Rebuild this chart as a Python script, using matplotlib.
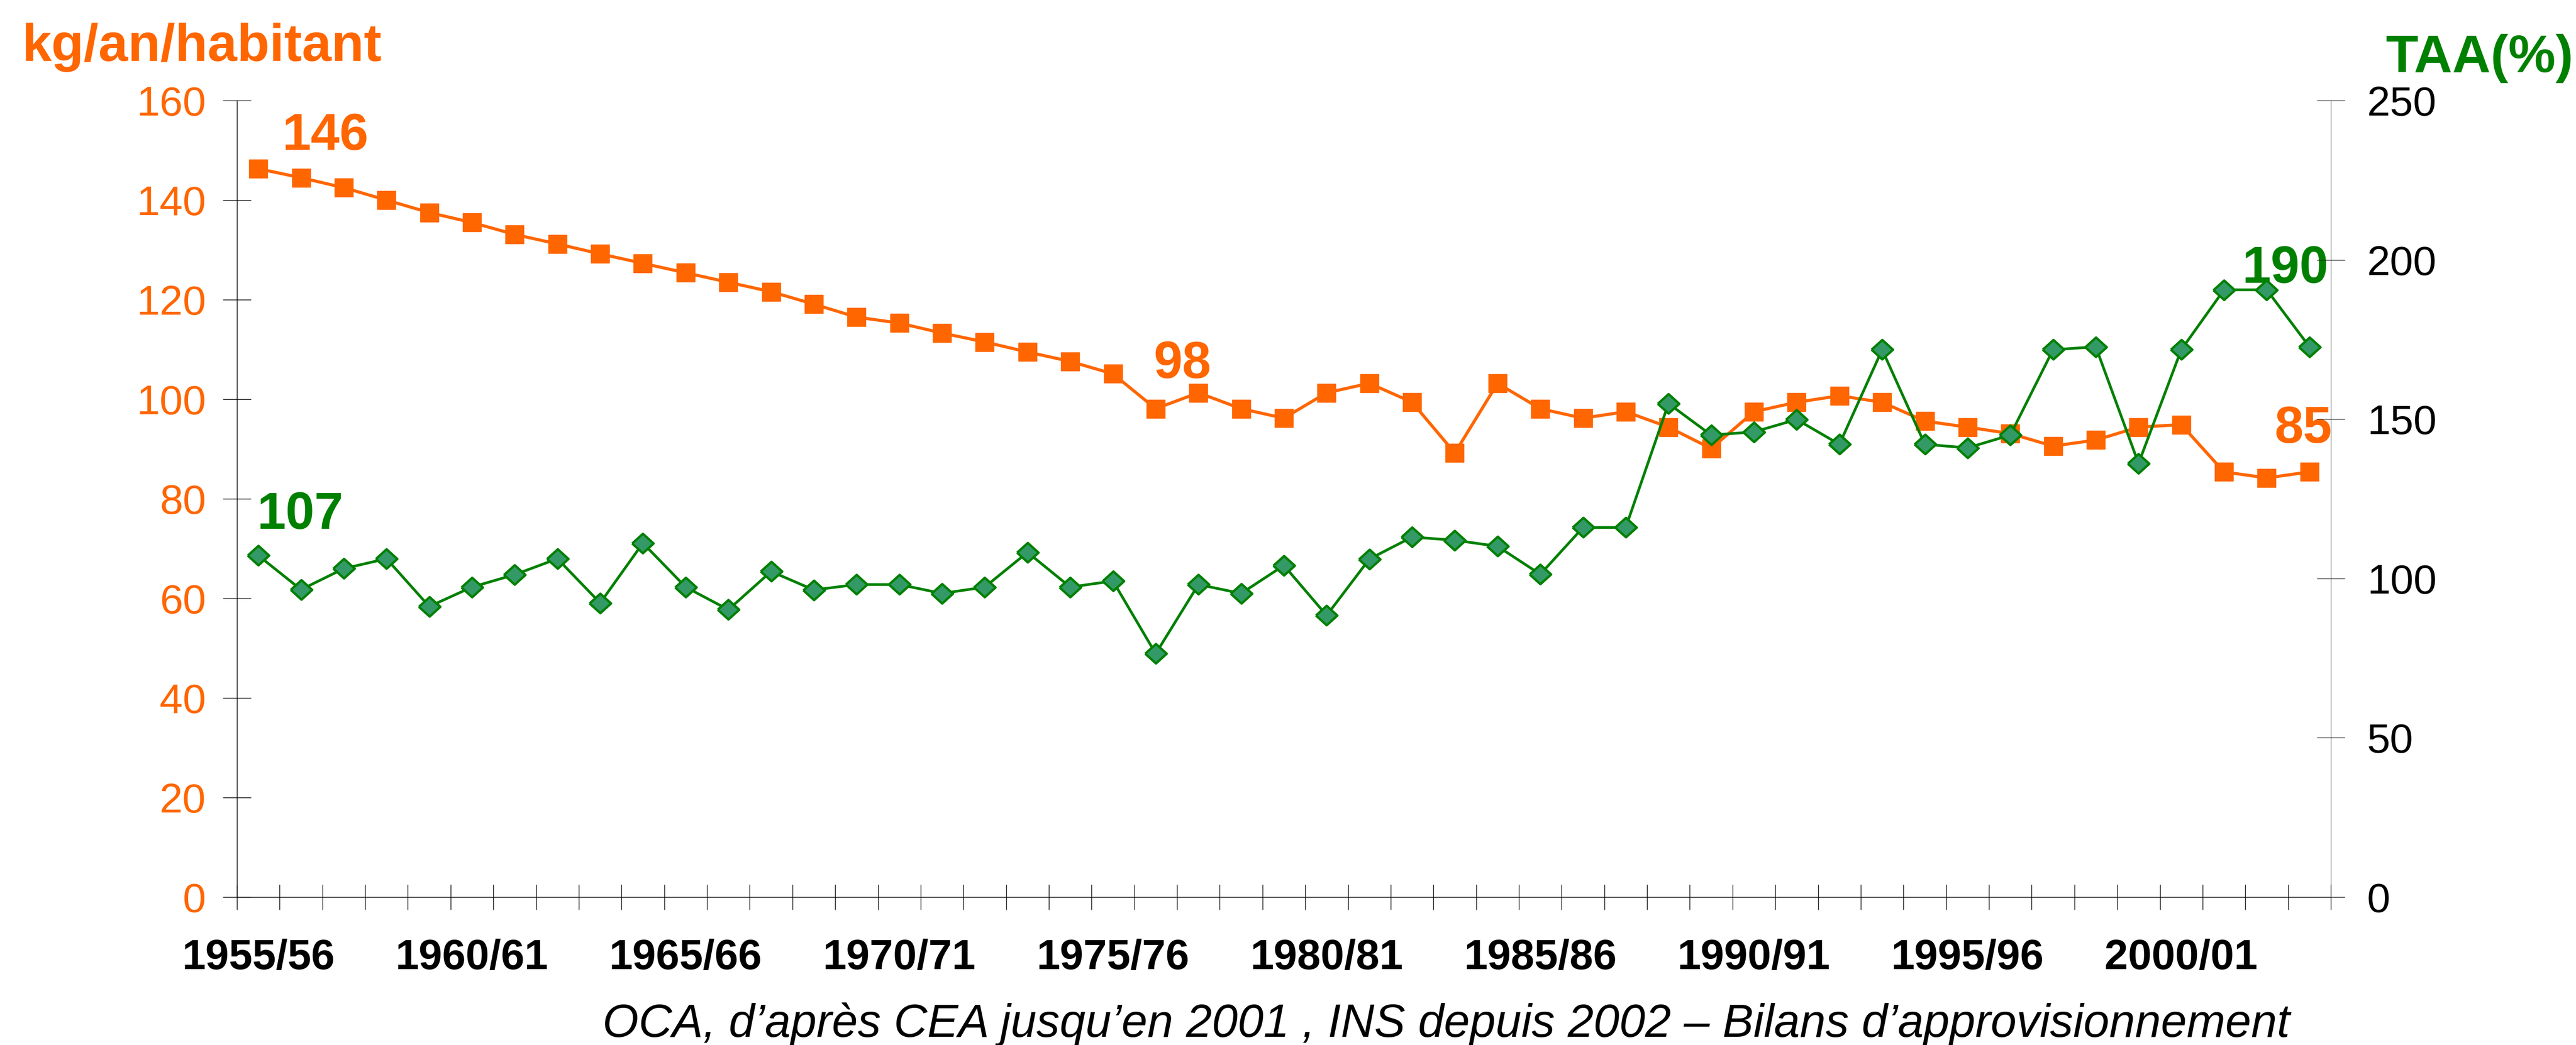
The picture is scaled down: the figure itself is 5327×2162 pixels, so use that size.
import matplotlib
matplotlib.use("Agg")
import matplotlib.pyplot as plt
import numpy as np

# ---------------- data ----------------
years = [f"{y}/{str(y + 1)[-2:]}" for y in range(1955, 2004)]
tick_labels = ["1955/56", "1960/61", "1965/66", "1970/71", "1975/76",
               "1980/81", "1985/86", "1990/91", "1995/96", "2000/01"]
consommation = [146.3, 144.5, 142.5, 140.0, 137.5, 135.5, 133.1, 131.2, 129.2, 127.3,
                125.4, 123.5, 121.6, 119.1, 116.5, 115.3, 113.3, 111.5, 109.5, 107.6,
                105.1, 98.1, 101.3, 98.1, 96.2, 101.3, 103.2, 99.4, 89.2, 103.2,
                98.1, 96.2, 97.5, 94.4, 90.1, 97.5, 99.4, 100.7, 99.4, 95.6,
                94.4, 93.1, 90.6, 91.8, 94.4, 94.9, 85.4, 84.2, 85.4]
taa = [107.2, 96.5, 103.1, 106.2, 91.2, 97.3, 101.2, 106.2, 92.3, 111.1,
       97.3, 90.2, 102.2, 96.4, 98.1, 98.1, 95.3, 97.3, 108.2, 97.3,
       99.2, 76.4, 98.1, 95.3, 104.1, 88.4, 106.1, 113.0, 112.0, 110.1,
       101.3, 116.0, 116.0, 154.9, 145.0, 146.0, 149.9, 142.1, 171.8, 142.1,
       141.0, 145.0, 171.8, 172.7, 136.1, 171.8, 190.6, 190.6, 172.7]
annotations_left = [("146", 0.555, 150.1, "#FF6600"), ("107", -0.03, 74.0, "#008000"),
                    ("98", 20.95, 104.3, "#FF6600"), ("190", 46.42, 123.4, "#008000"),
                    ("85", 47.18, 91.3, "#FF6600")]

# ---------------- fonts ----------------
plt.rcParams['font.family'] = ["Liberation Sans", "DejaVu Sans"]

ORANGE = "#FF6600"
GREEN = "#008000"
GREEN_FILL = "#339966"

W, H, DPI = 5327, 2162, 100
fig = plt.figure(figsize=(W / DPI, H / DPI), dpi=DPI)
fig.patch.set_facecolor("white")

x0, x1 = 490, 4820
ytop, ybot = 208, 1856
ax = fig.add_axes([x0 / W, 1 - ybot / H, (x1 - x0) / W, (ybot - ytop) / H])
ax2 = ax.twinx()

x = np.arange(len(years))
ax.plot(x, consommation, color=ORANGE, lw=4.6, marker="s", ms=28, mew=1,
        mfc=ORANGE, mec=ORANGE, zorder=3, clip_on=False)
diamond = [(-1.1, 0), (0, 1), (1.1, 0), (0, -1), (-1.1, 0)]
ax2.plot(x, taa, color=GREEN, lw=4.0, marker=diamond, ms=32,
         mfc=GREEN_FILL, mec=GREEN, mew=3.5, zorder=3, clip_on=False)

ax.set_xlim(-0.5, len(years) - 0.5)
ax.set_ylim(0, 160)
ax2.set_ylim(0, 250)
ax.set_yticks(np.arange(0, 161, 20))
ax2.set_yticks(np.arange(0, 251, 50))

major = [years.index(t) for t in tick_labels]
ax.set_xticks(major)
ax.set_xticklabels(tick_labels, fontsize=63, fontweight="bold", color="black")
ax.set_xticks(np.arange(-0.5, len(years), 1), minor=True)
ax.tick_params(axis="x", which="major", length=0, pad=62)
ax.tick_params(axis="x", which="minor", direction="inout", length=37, width=1.0, color="black")

ax.tick_params(axis="y", direction="inout", length=42, width=1.0, color="black",
               labelsize=62, labelcolor=ORANGE, pad=25)
ax2.tick_params(axis="y", direction="inout", length=42, width=1.0, color="#222222",
                labelsize=62, labelcolor="black", pad=33)

for s in ["top", "right"]:
    ax.spines[s].set_visible(False)
ax.spines["left"].set_linewidth(1.0)
ax.spines["bottom"].set_linewidth(1.0)
for s in ["top", "left", "bottom"]:
    ax2.spines[s].set_visible(False)
ax2.spines["right"].set_color("#333333")
ax2.spines["right"].set_linewidth(0.8)

for txt, tx, ty, c in annotations_left:
    ax.text(tx, ty, txt, color=c, fontsize=77, fontweight="bold",
            ha="left", va="baseline", zorder=5)

fig.text(45 / W, 1 - 126 / H, "kg/an/habitant", color=ORANGE, fontsize=79,
         fontweight="bold", ha="left", va="baseline")
fig.text(5322 / W, 1 - 149 / H, "TAA(%)", color=GREEN, fontsize=79,
         fontweight="bold", ha="right", va="baseline")
fig.text(4735 / W, 1 - 2145 / H,
         "OCA, d\u2019apr\u00e8s CEA jusqu\u2019en 2001 , INS depuis 2002 \u2013 Bilans d\u2019approvisionnement",
         color="black", fontsize=69, style="italic", ha="right", va="baseline")

fig.savefig("out.png", dpi=DPI, facecolor="white")
